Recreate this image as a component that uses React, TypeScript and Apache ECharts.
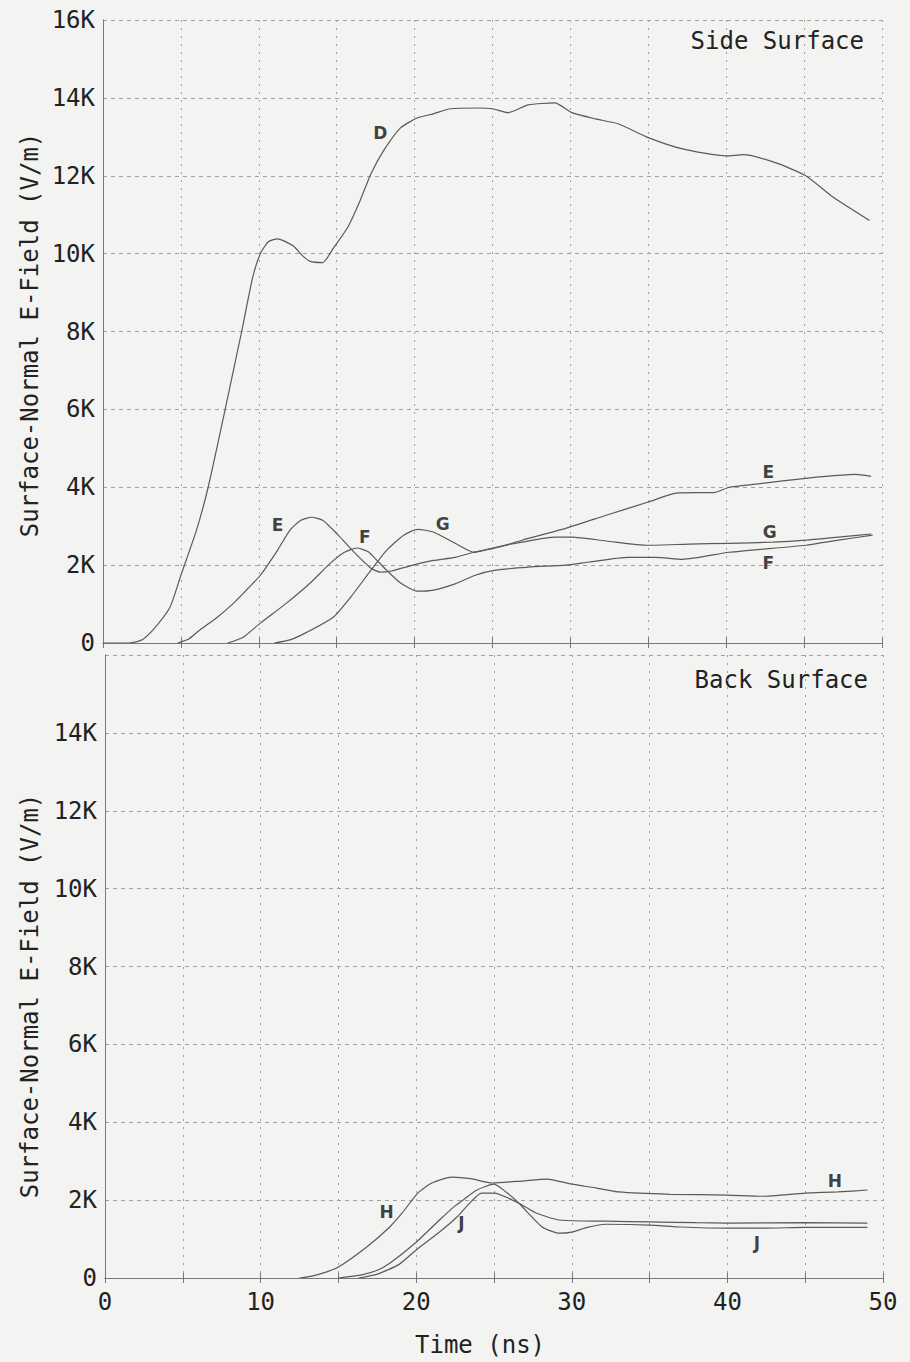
import React, { useEffect, useRef } from "react";
import * as echarts from "echarts";

// ---- Data (x in ns, y in kV/m i.e. "K") ----
const xTicks = [0, 10, 20, 30, 40, 50];
const yTicksK = [0, 2, 4, 6, 8, 10, 12, 14, 16];

const curveD: number[][] = [
  [0, 0], [1.7, 0], [2.5, 0.08], [3.2, 0.33], [4.3, 0.92], [5, 1.74], [6, 2.9], [6.75, 4.0],
  [7.84, 6.0], [8.9, 8.0], [9.6, 9.38], [10.1, 10.0], [10.6, 10.3], [11.2, 10.38], [12.2, 10.2],
  [12.8, 9.95], [13.3, 9.8], [14.1, 9.77], [14.8, 10.15], [15.7, 10.67], [16.5, 11.36],
  [17.2, 12.05], [18.0, 12.64], [19.1, 13.23], [20.2, 13.49], [21.2, 13.59], [22.3, 13.72],
  [24.1, 13.74], [25.0, 13.72], [26.0, 13.62], [27.3, 13.82], [29.0, 13.87], [30.1, 13.62],
  [31.6, 13.46], [33.1, 13.33], [35.0, 12.98], [37.2, 12.69], [40.0, 12.51], [41.1, 12.54],
  [43.2, 12.33], [45.1, 12.0], [46.9, 11.44], [49.2, 10.85],
];
const curveE: number[][] = [
  [4.8, 0], [5.5, 0.1], [6.2, 0.33], [7.3, 0.65], [8.4, 1.03], [9.3, 1.4], [10.1, 1.74],
  [11.2, 2.38], [12.0, 2.9], [12.7, 3.15], [13.4, 3.23], [14.1, 3.15], [15.1, 2.77], [16.0, 2.38],
  [17.2, 1.92], [17.8, 1.82], [18.5, 1.85], [19.9, 2.0], [21.2, 2.12], [22.6, 2.2], [23.8, 2.33],
  [25.2, 2.44], [26.9, 2.64], [29.9, 2.97], [32.3, 3.28], [35.0, 3.62], [36.8, 3.85], [39.3, 3.87],
  [40.2, 4.0], [41.9, 4.08], [45.1, 4.23], [46.4, 4.28], [48.3, 4.33], [49.3, 4.28],
];
const curveF: number[][] = [
  [8, 0], [9, 0.15], [10.1, 0.51], [11.8, 1.03], [13.3, 1.54], [14.6, 2.05], [15.5, 2.33],
  [16.3, 2.44], [17.0, 2.35], [17.4, 2.2], [18.2, 1.87], [19.1, 1.54], [20.2, 1.33], [21.2, 1.36],
  [22.6, 1.52], [23.9, 1.74], [25.2, 1.87], [27.3, 1.95], [29.7, 2.0], [31.2, 2.08], [33.7, 2.2],
  [35.5, 2.2], [37.2, 2.15], [40.2, 2.33], [45.1, 2.51], [47.2, 2.64], [49.4, 2.77],
];
const curveG: number[][] = [
  [11, 0], [12, 0.08], [13.1, 0.28], [14.8, 0.67], [15.9, 1.18], [17.2, 1.87], [18.2, 2.38],
  [19.3, 2.77], [20.2, 2.92], [21.2, 2.85], [22.6, 2.56], [23.8, 2.33], [25.2, 2.46], [26.9, 2.59],
  [29.0, 2.72], [30.1, 2.72], [32.3, 2.62], [35.0, 2.51], [37.6, 2.54], [40.2, 2.56], [43.0, 2.59],
  [45.1, 2.64], [47.2, 2.72], [49.3, 2.8],
];
const curveH: number[][] = [
  [12.5, 0], [13.3, 0.05], [14.2, 0.15], [15.0, 0.28], [16.8, 0.79], [18.3, 1.31], [19.1, 1.67],
  [20.1, 2.18], [21.0, 2.44], [22.3, 2.59], [23.5, 2.55], [24.9, 2.44], [26.8, 2.49], [28.4, 2.54],
  [30.0, 2.41], [31.6, 2.31], [33.0, 2.21], [36.3, 2.15], [40.0, 2.13], [42.2, 2.1], [45.0, 2.18],
  [47.1, 2.21], [49.0, 2.26],
];
const curveI: number[][] = [
  [16.3, 0], [17.5, 0.1], [18.9, 0.35], [20.0, 0.72], [21.5, 1.18], [22.6, 1.56], [23.5, 1.95],
  [24.2, 2.18], [25.0, 2.18], [26.6, 1.92], [27.7, 1.67], [29.2, 1.49], [32.2, 1.46], [35.0, 1.44],
  [38.0, 1.42], [40.0, 1.41], [45.0, 1.42], [49.0, 1.41],
];
const curveJ: number[][] = [
  [15.0, 0], [16.5, 0.08], [17.5, 0.2], [18.3, 0.38], [20.0, 0.92], [21.5, 1.49], [22.4, 1.82],
  [23.1, 2.03], [23.9, 2.26], [25.0, 2.41], [25.8, 2.2], [26.6, 1.92], [28.1, 1.31], [29.2, 1.15],
  [30.0, 1.18], [31.0, 1.3], [32.2, 1.38], [35.0, 1.36], [37.0, 1.31], [40.0, 1.28], [42.5, 1.28],
  [45.0, 1.3], [49.0, 1.3],
];
const topLabels: (number | string)[][] = [
  [17.8, 13.1, "D"], [11.2, 3.03, "E"], [16.8, 2.72, "F"], [21.8, 3.05, "G"],
  [42.7, 4.38, "E"], [42.8, 2.85, "G"], [42.7, 2.05, "F"],
];
const bottomLabels: (number | string)[][] = [
  [18.1, 1.7, "H"], [22.9, 1.4, "J"], [46.9, 2.5, "H"], [41.9, 0.9, "J"],
];

const MONO = "DejaVu Sans Mono";
const INK = "#222";
const CURVE = "#5a5a5a";
const GRID = "#a0a0a0";

export default function App() {
  const ref = useRef<HTMLDivElement>(null);
  useEffect(() => {
    if (!ref.current) return;
    const chart = echarts.init(ref.current, undefined, { renderer: "svg" });

    const splitX = { show: true, lineStyle: { color: GRID, width: 1, type: [2, 6] as any } };
    const splitY = { show: true, lineStyle: { color: GRID, width: 1, type: [4, 4] as any } };
    const axLine = { show: true, lineStyle: { color: "#777", width: 1 } };
    const tickIn = { show: true, inside: true, length: 5, lineStyle: { color: "#777" } };

    const xBase = { type: "value" as const, min: 0, max: 50, interval: 5 };
    const yBase = { type: "value" as const, min: 0, max: 16, interval: 2 };

    const yLabel = (hideTop: boolean) => ({
      show: true,
      fontFamily: MONO,
      fontSize: 24,
      color: INK,
      margin: 8,
      formatter: (v: number) =>
        !yTicksK.includes(v) ? "" : v === 0 ? "0" : hideTop && v === 16 ? "" : `${v}K`,
    });

    const line = (data: number[][], xi: number, yi: number) => ({
      type: "line" as const,
      data,
      xAxisIndex: xi,
      yAxisIndex: yi,
      showSymbol: false,
      smooth: 0.2,
      lineStyle: { color: CURVE, width: 1.2 },
      z: 5,
    });
    const labels = (data: (number | string)[][], xi: number, yi: number) => ({
      type: "scatter" as const,
      data,
      xAxisIndex: xi,
      yAxisIndex: yi,
      symbolSize: 1,
      itemStyle: { color: "rgba(0,0,0,0)" },
      label: {
        show: true,
        position: "inside",
        formatter: (p: any) => p.value[2],
        fontFamily: "DejaVu Sans",
        fontWeight: "bold",
        fontSize: 17,
        color: "#111",
      },
      z: 6,
    });

    chart.setOption({
      animation: false,
      backgroundColor: "#f3f3f1",
      grid: [
        { left: 103, right: 28, top: 20, height: 623 },
        { left: 105, right: 27, top: 655, height: 623 },
      ],
      xAxis: [
        { ...xBase, gridIndex: 0, position: "bottom", axisLabel: { show: false }, splitLine: splitX, axisLine: axLine, axisTick: tickIn },
        { ...xBase, gridIndex: 0, position: "top", axisLabel: { show: false }, splitLine: { show: false }, axisLine: axLine, axisTick: tickIn },
        {
          ...xBase, gridIndex: 1, position: "bottom", splitLine: splitX, axisLine: axLine, axisTick: tickIn,
          axisLabel: {
            show: true, fontFamily: MONO, fontSize: 24, color: INK, margin: 12,
            formatter: (v: number) => (xTicks.includes(v) ? String(v) : ""),
          },
        },
        { ...xBase, gridIndex: 1, position: "top", axisLabel: { show: false }, splitLine: { show: false }, axisLine: axLine, axisTick: tickIn },
      ],
      yAxis: [
        { ...yBase, gridIndex: 0, position: "left", axisLabel: yLabel(false), splitLine: splitY, axisLine: axLine, axisTick: { show: false } },
        { ...yBase, gridIndex: 0, position: "right", axisLabel: { show: false }, splitLine: { show: false }, axisLine: axLine, axisTick: { show: false } },
        { ...yBase, gridIndex: 1, position: "left", axisLabel: yLabel(true), splitLine: splitY, axisLine: axLine, axisTick: { show: false } },
        { ...yBase, gridIndex: 1, position: "right", axisLabel: { show: false }, splitLine: { show: false }, axisLine: axLine, axisTick: { show: false } },
      ],
      graphic: [
        {
          type: "text", x: 30, y: 335, rotation: Math.PI / 2,
          style: { text: "Surface-Normal E-Field (V/m)", font: `24px "${MONO}"`, fill: INK, align: "center", verticalAlign: "middle" },
        },
        {
          type: "text", x: 30, y: 996, rotation: Math.PI / 2,
          style: { text: "Surface-Normal E-Field (V/m)", font: `24px "${MONO}"`, fill: INK, align: "center", verticalAlign: "middle" },
        },
        {
          type: "text", x: 864, y: 41,
          style: { text: "Side Surface", font: `24px "${MONO}"`, fill: INK, align: "right", verticalAlign: "middle" },
        },
        {
          type: "text", x: 868, y: 680,
          style: { text: "Back Surface", font: `24px "${MONO}"`, fill: INK, align: "right", verticalAlign: "middle" },
        },
        {
          type: "text", x: 480, y: 1345,
          style: { text: "Time (ns)", font: `24px "${MONO}"`, fill: INK, align: "center", verticalAlign: "middle" },
        },
      ],
      series: [
        line(curveD, 0, 0),
        line(curveE, 0, 0),
        line(curveF, 0, 0),
        line(curveG, 0, 0),
        line(curveH, 2, 2),
        line(curveI, 2, 2),
        line(curveJ, 2, 2),
        labels(topLabels, 0, 0),
        labels(bottomLabels, 2, 2),
      ],
    });
    return () => chart.dispose();
  }, []);

  return (
    <div
      ref={ref}
      style={{ position: "fixed", left: 0, top: 0, width: 910, height: 1362, background: "#f3f3f1" }}
    />
  );
}
